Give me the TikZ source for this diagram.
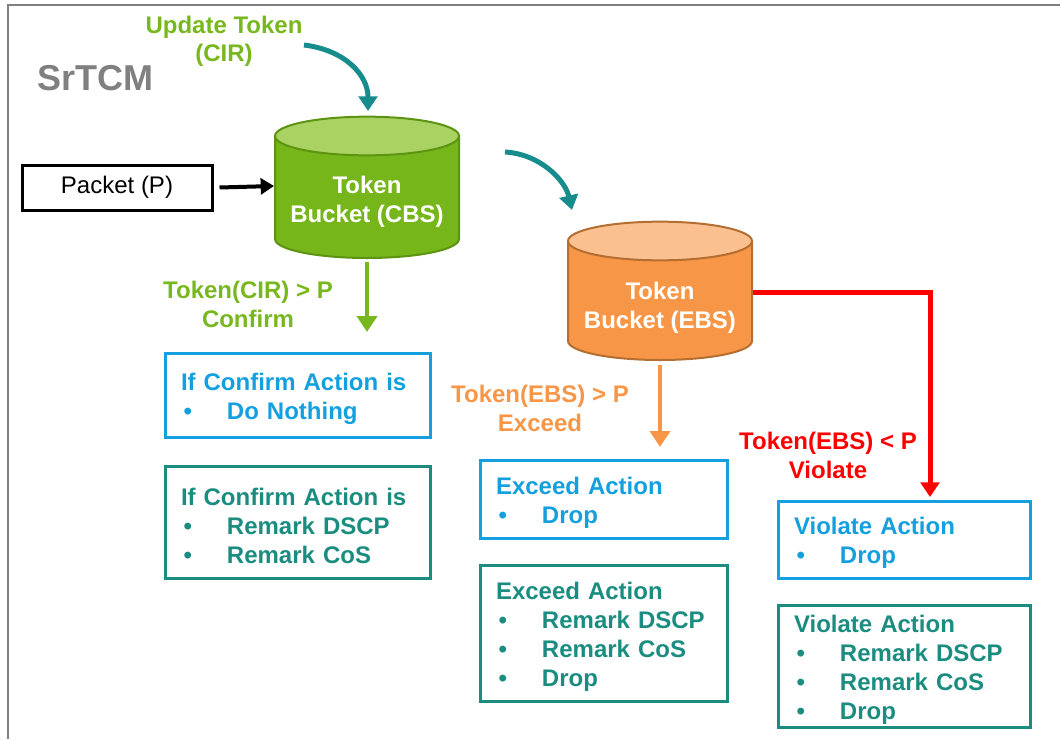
\documentclass[tikz,border=0pt]{standalone}
\usepackage{fontspec}
\setmainfont{Liberation Sans}
\usetikzlibrary{arrows.meta}
\definecolor{lgreen}{RGB}{120,184,30}
\definecolor{cbsfill}{RGB}{118,182,26}
\definecolor{cbstop}{RGB}{170,210,98}
\definecolor{cbsedge}{RGB}{92,148,18}
\definecolor{ebsfill}{RGB}{247,150,70}
\definecolor{ebstop}{RGB}{250,192,144}
\definecolor{ebsedge}{RGB}{180,110,50}
\definecolor{oranget}{RGB}{247,150,70}
\definecolor{tealarrow}{RGB}{22,140,140}
\definecolor{bluebox}{RGB}{20,160,222}
\definecolor{tealbox}{RGB}{26,140,128}
\definecolor{framegray}{RGB}{128,128,128}
\definecolor{redline}{RGB}{255,0,0}
\newcommand{\bul}[1]{\makebox[34.5pt][l]{\hspace{2pt}\textbullet}#1}
\begin{document}
\begin{tikzpicture}[x=0.75pt,y=-0.75pt,
  every node/.style={font=\bfseries\fontsize{18}{21.75}\selectfont},
  lbl/.style={align=center, inner sep=0pt},
  actbox/.style={draw, line width=2.25pt, inner sep=0pt, anchor=center},
  bluebx/.style={actbox, draw=bluebox},
  tealbx/.style={actbox, draw=tealbox},
  boxtext/.style={align=left, inner sep=0pt, yshift=-2.6pt},
  curvearrow/.style={draw=tealarrow, line width=3.75pt, -{Triangle[length=11pt,width=14pt]}},
  downarrow/.style={line width=3pt, -{Triangle[length=12pt,width=15pt]}},
  cyledge/.style={line width=1.5pt}
]
\useasboundingbox (0,0) rectangle (1060,739);
% frame
\draw[framegray, line width=1.5pt] (8,739) -- (8,5) -- (1060,5);

% title
\node[lbl, text=framegray, font=\bfseries\fontsize{27}{30}\selectfont] (title) at (95,78) {SrTCM};
\node[lbl, text=lgreen, font=\bfseries\fontsize{18}{21}\selectfont] (upd) at (224,41) {Update Token\\(CIR)};

% packet
\node[draw=black, line width=2.25pt, minimum width=142.5pt, minimum height=33.75pt, inner sep=0pt,
      font=\fontsize{18}{21}\selectfont] (pkt) at (117,187.5) {Packet (P)};

% CBS cylinder
\filldraw[fill=cbsfill, draw=cbsedge, cyledge] (275,136) -- (275,239)
  arc[start angle=180, end angle=360, x radius=69pt, y radius=14.25pt] -- (459,136) -- cycle;
\filldraw[fill=cbstop, draw=cbsedge, cyledge] (367,136) ellipse [x radius=69pt, y radius=14.5pt];
\node[lbl, text=white] (cbs) at (367,201.5) {Token\\Bucket (CBS)};
\coordinate (cbsleft) at (274,186);
\coordinate (cbstopc) at (368,111);
\coordinate (cbsbot) at (367,262);

% EBS cylinder
\filldraw[fill=ebsfill, draw=ebsedge, cyledge] (568,241) -- (568,341)
  arc[start angle=180, end angle=360, x radius=69pt, y radius=14.25pt] -- (752,241) -- cycle;
\filldraw[fill=ebstop, draw=ebsedge, cyledge] (660,241) ellipse [x radius=69pt, y radius=14.5pt];
\node[lbl, text=white] (ebs) at (660,307.5) {Token\\Bucket (EBS)};
\coordinate (ebsbot) at (660,365);
\coordinate (ebsright) at (753,292);

% curved arrows
\coordinate (c1s) at (304,45);
\draw[curvearrow] (c1s) .. controls (345,50) and (368,75) .. (cbstopc);
\coordinate (c2s) at (505,152);
\coordinate (c2e) at (572,210);
\draw[curvearrow] (c2s) .. controls (540,154) and (565,180) .. (c2e);

% packet arrow
\draw[line width=3pt, -{Triangle[length=10pt,width=12pt]}] (pkt.east) ++(6,0) -- (cbsleft);

% confirm
\coordinate (confend) at (367,332);
\draw[downarrow, draw=lgreen] (cbsbot) -- (confend);
\node[lbl, text=lgreen] (conflbl) at (248,304) {Token(CIR) {\textgreater} P\\Confirm};

% exceed
\coordinate (excend) at (660,447);
\draw[downarrow, draw=oranget] (ebsbot) -- (excend);
\node[lbl, text=oranget] (exclbl) at (540,408) {Token(EBS) {\textgreater} P\\Exceed};

% violate
\coordinate (violcorner) at (930,292);
\coordinate (violend) at (930,497);
\draw[draw=redline, line width=3.75pt, -{Triangle[length=11pt,width=14pt]}] (ebsright) -- (violcorner) -- (violend);
\node[lbl, text=redline] (viollbl) at (828,455) {Token(EBS) {\textless} P\\Violate};

% confirm boxes
\node[bluebx, minimum width=198.75pt, minimum height=63pt] (cb1) at (297.5,395) {};
\node[boxtext, text=bluebox, text width=174.75pt] (cb1t) at (cb1.center)
  {If Confirm Action is\\\bul{Do Nothing}};
\node[tealbx, minimum width=198.75pt, minimum height=84pt] (cb2) at (297.5,522) {};
\node[boxtext, text=tealbox, text width=174.75pt] (cb2t) at (cb2.center)
  {If Confirm Action is\\\bul{Remark DSCP}\\\bul{Remark CoS}};

% exceed boxes
\node[bluebx, minimum width=185.25pt, minimum height=58.5pt] (eb1) at (603.5,499) {};
\node[boxtext, text=bluebox, text width=161.25pt] (eb1t) at (eb1.center)
  {Exceed Action\\\bul{Drop}};
\node[tealbx, minimum width=185.25pt, minimum height=102pt] (eb2) at (603.5,633) {};
\node[boxtext, text=tealbox, text width=161.25pt] (eb2t) at (eb2.center)
  {Exceed Action\\\bul{Remark DSCP}\\\bul{Remark CoS}\\\bul{Drop}};

% violate boxes
\node[bluebx, minimum width=189pt, minimum height=57.75pt] (vb1) at (904,539.5) {};
\node[boxtext, text=bluebox, text width=165pt] (vb1t) at (vb1.center)
  {Violate Action\\\bul{Drop}};
\node[tealbx, minimum width=189pt, minimum height=91.5pt] (vb2) at (904,666) {};
\node[boxtext, text=tealbox, text width=165pt] (vb2t) at (vb2.center)
  {Violate Action\\\bul{Remark DSCP}\\\bul{Remark CoS}\\\bul{Drop}};
\end{tikzpicture}
\end{document}
